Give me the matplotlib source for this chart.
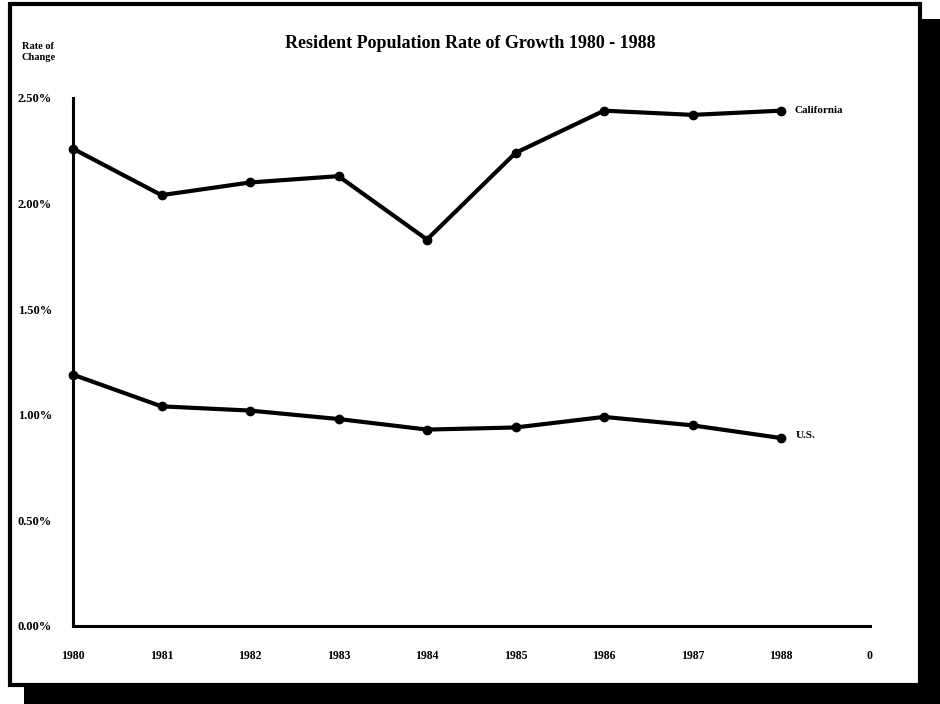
import matplotlib.pyplot as plt
from matplotlib.patches import Rectangle

# growth rates, percent per year
years = ['1980', '1981', '1982', '1983', '1984', '1985', '1986', '1987', '1988']
california = [2.26, 2.04, 2.10, 2.13, 1.83, 2.24, 2.44, 2.42, 2.44]
us = [1.19, 1.04, 1.02, 0.98, 0.93, 0.94, 0.99, 0.95, 0.89]
x_labels = years + ['0']
y_ticks = [0.0, 0.5, 1.0, 1.5, 2.0, 2.5]
y_labels = ['0.00%', '0.50%', '1.00%', '1.50%', '2.00%', '2.50%']

plt.rcParams['font.family'] = ['Liberation Serif', 'DejaVu Serif']

W, H = 940, 704
fig = plt.figure(figsize=(W / 100, H / 100), dpi=100)

# drop shadow + framed page
fig.patches.append(Rectangle((24 / W, 0), 1 - 24 / W, 1 - 19 / H,
                             transform=fig.transFigure, facecolor='black',
                             edgecolor='none', zorder=0))
fig.patches.append(Rectangle((10 / W, 1 - 685 / H), 910 / W, 681 / H,
                             transform=fig.transFigure, facecolor='white',
                             edgecolor='black', linewidth=3, zorder=1))

ax = fig.add_axes([73 / W, 1 - 626 / H, (869.5 - 73) / W, (626 - 98) / H])
ax.set_facecolor('none')
ax.set_zorder(2)

xs = list(range(len(years)))
ax.plot(xs, california, color='black', linewidth=3, marker='o', markersize=6,
        clip_on=False)
ax.plot(xs, us, color='black', linewidth=3, marker='o', markersize=6,
        clip_on=False)

ax.set_xlim(0, 9)
ax.set_ylim(0, 2.5)
ax.set_xticks(range(len(x_labels)))
ax.set_xticklabels(x_labels, fontsize=8.5, fontweight='bold')
ax.set_yticks(y_ticks)
ax.set_yticklabels(y_labels, fontsize=9, fontweight='bold')
ax.tick_params(axis='both', length=0)
ax.tick_params(axis='x', pad=17)
ax.tick_params(axis='y', pad=15)
for side in ['top', 'right']:
    ax.spines[side].set_visible(False)
for side in ['left', 'bottom']:
    ax.spines[side].set_linewidth(2.2)

ax.text(8.15, california[-1], 'California', fontsize=8, fontweight='bold',
        va='center', ha='left')
ax.text(8.17, us[-1] + 0.01, 'U.S.', fontsize=8, fontweight='bold',
        va='center', ha='left')

fig.text(470 / W, 1 - 43 / H, 'Resident Population Rate of Growth 1980 - 1988',
         fontsize=13, fontweight='bold', ha='center', va='center', zorder=3)
fig.text(22 / W, 1 - 52 / H, 'Rate of\nChange', fontsize=7.5, fontweight='bold',
         ha='left', va='center', linespacing=1.3, zorder=3)

fig.savefig('out.png', dpi=100)
